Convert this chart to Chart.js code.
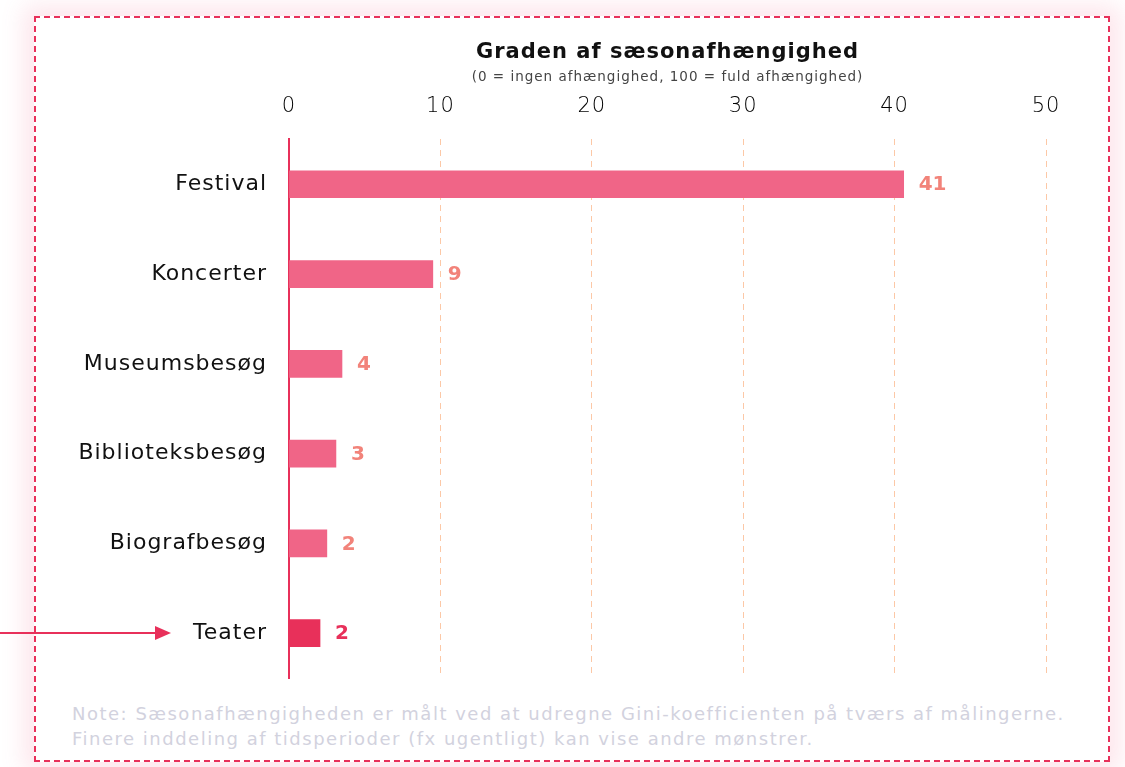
<!DOCTYPE html>
<html lang="da">
<head>
<meta charset="utf-8">
<script src="https://cdn.jsdelivr.net/npm/chart.js@4.4.1/dist/chart.umd.min.js"></script>
<style>
  html, body { margin: 0; padding: 0; background: #fff; overflow: hidden; }
  body { width: 1125px; height: 767px; position: relative; font-family: 'DejaVu Sans', sans-serif; }
  #ramme {
    position: absolute; left: 34px; top: 16px; width: 1072px; height: 742px;
    border: 2px dashed #e8305a; background: #fff;
    box-shadow: 0 0 22px 10px rgba(240, 100, 135, 0.16);
    z-index: 0;
  }
  #note {
    position: absolute; left: 36px; top: 683px;
    font-size: 18px; line-height: 25px; color: #d2d2de; letter-spacing: 1.5px;
    white-space: nowrap;
  }
  #wrap { position: absolute; left: 0; top: 0; width: 1125px; height: 767px; z-index: 1; }
</style>
</head>
<body>
<div id="ramme">
  <div id="note">Note: Sæsonafhængigheden er målt ved at udregne Gini-koefficienten på tværs af målingerne.<br>Finere inddeling af tidsperioder (fx ugentligt) kan vise andre mønstrer.</div>
</div>
<div id="wrap"><canvas id="graf"></canvas></div>
<script>
// Data
const kategorier = ['Festival', 'Koncerter', 'Museumsbesøg', 'Biblioteksbesøg', 'Biografbesøg', 'Teater'];
const vaerdier = [40.6, 9.5, 3.5, 3.1, 2.5, 2.05];
const etiketter = ['41', '9', '4', '3', '2', '2'];
const xTicks = [0, 10, 20, 30, 40, 50];
const fremhaevet = 'Teater';

const RØD = '#e8305a';
const LYSERØD = '#f06587';
const LAKS = '#f2837a';
const FONT = "'DejaVu Sans', sans-serif";

// lidt ekstra luft mellem bogstaverne, så teksten ligner originalen
const bogstavPlugin = {
  id: 'bogstavafstand',
  beforeDraw(chart) { chart.ctx.letterSpacing = '1px'; }
};

// titel og undertitel centreres over selve plotområdet
const titelPlugin = {
  id: 'titelplacering',
  afterLayout(chart) {
    const area = chart.chartArea;
    chart.boxes.forEach(b => {
      if (!b.axis && b.options && b.options.text !== undefined) {
        b.left = area.left;
        b.right = area.right;
      }
    });
  }
};

// Værdier ved enden af søjlerne + pil mod Teater
const etiketPlugin = {
  id: 'etiketter',
  afterDatasetsDraw(chart) {
    const ctx = chart.ctx;
    const meta = chart.getDatasetMeta(0);
    ctx.save();
    ctx.letterSpacing = '0px';
    ctx.font = 'bold 20px ' + FONT;
    ctx.textBaseline = 'middle';
    ctx.textAlign = 'left';
    meta.data.forEach((bar, i) => {
      ctx.fillStyle = kategorier[i] === fremhaevet ? RØD : LAKS;
      ctx.fillText(etiketter[i], bar.x + 15, bar.y + 1);
    });
    ctx.restore();
  },
  afterDraw(chart) {
    const ctx = chart.ctx;
    const y = chart.scales.y.getPixelForValue(kategorier.indexOf(fremhaevet));
    ctx.save();
    ctx.strokeStyle = RØD;
    ctx.fillStyle = RØD;
    ctx.lineWidth = 2;
    ctx.beginPath();
    ctx.moveTo(0, y);
    ctx.lineTo(158, y);
    ctx.stroke();
    ctx.beginPath();
    ctx.moveTo(171, y);
    ctx.lineTo(155, y - 7);
    ctx.lineTo(155, y + 7);
    ctx.closePath();
    ctx.fill();
    ctx.restore();
  }
};

new Chart(document.getElementById('graf'), {
  type: 'bar',
  data: {
    labels: kategorier,
    datasets: [{
      data: vaerdier,
      backgroundColor: kategorier.map(k => k === fremhaevet ? RØD : LYSERØD),
      barThickness: 27,
      borderWidth: 0
    }]
  },
  options: {
    indexAxis: 'y',
    responsive: true,
    maintainAspectRatio: false,
    animation: false,
    layout: { padding: { top: 23, right: 79, bottom: 89, left: 0 } },
    plugins: {
      legend: { display: false },
      tooltip: { enabled: false },
      title: {
        display: true,
        text: 'Graden af sæsonafhængighed',
        color: '#111',
        font: { family: FONT, size: 21, weight: 'bold', lineHeight: 1.2 },
        padding: { top: 17, bottom: 4 }
      },
      subtitle: {
        display: true,
        text: '(0 = ingen afhængighed, 100 = fuld afhængighed)',
        color: '#444',
        font: { family: FONT, size: 13.5, lineHeight: 1.2 },
        padding: { top: 0, bottom: 10 }
      }
    },
    scales: {
      x: {
        position: 'top',
        min: 0,
        max: 50,
        afterBuildTicks(scale) { scale.ticks = xTicks.map(v => ({ value: v })); },
        afterFit(scale) { scale.height = 44; },
        ticks: {
          color: '#000',
          padding: 20,
          font: { family: FONT, size: 21, weight: '300' }
        },
        grid: {
          drawTicks: false,
          color: ctx => ctx.index === 0 ? 'rgba(0,0,0,0)' : '#fcc8a6',
          lineWidth: 1
        },
        border: { display: false, dash: [6, 5] }
      },
      y: {
        afterFit(scale) { scale.width = 289; },
        ticks: {
          color: '#111',
          padding: 22,
          font: { family: FONT, size: 22 }
        },
        grid: { display: false, drawTicks: false },
        border: { display: true, color: RØD, width: 2 }
      }
    }
  },
  plugins: [bogstavPlugin, titelPlugin, etiketPlugin]
});
</script>
</body>
</html>
